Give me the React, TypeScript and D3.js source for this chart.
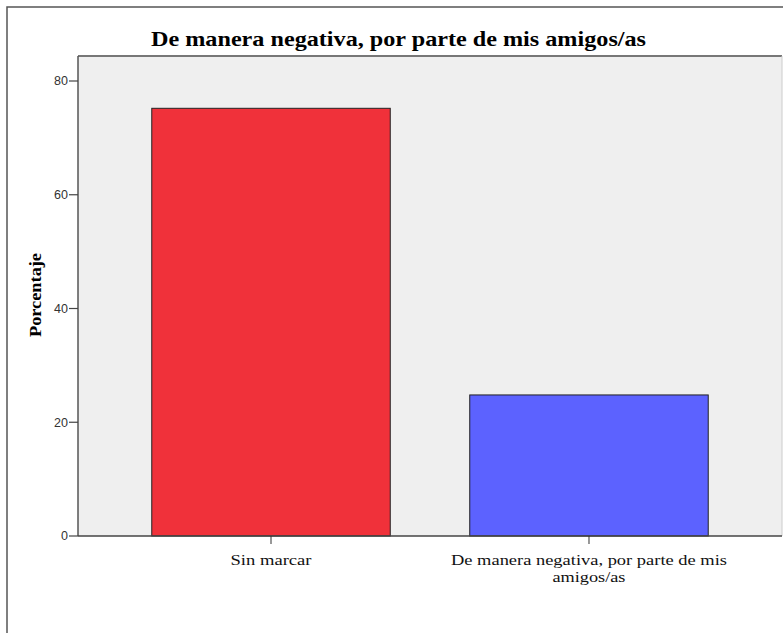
import React from "react";
import * as d3 from "d3";

const categories = ["Sin marcar", "De manera negativa, por parte de mis amigos/as"];
const categoryLines = [["Sin marcar"], ["De manera negativa, por parte de mis", "amigos/as"]];
const categoryLineWidths = [[81], [276, 73]];
const values = [75.2, 24.8];
const colors = ["#F0313A", "#5C62FF"];
const yTicks = [0, 20, 40, 60, 80];
const title = "De manera negativa, por parte de mis amigos/as";
const yTitle = "Porcentaje";

export default function App() {
  const W = 783, H = 633;
  const left = 78, right = 782, top = 56, bottom = 536;
  const y = d3.scaleLinear().domain([0, 80]).range([bottom, 81]);
  const x = d3.scaleBand<string>().domain(categories).range([left, right]).paddingInner(0.25).paddingOuter(0.232);
  const serif = "'Liberation Serif', 'Times New Roman', serif";
  const sans = "'Liberation Sans', Arial, sans-serif";
  return (
    <svg width={W} height={H} style={{ position: "absolute", left: 0, top: 0, background: "#fff" }}>
      <rect x={7} y={7} width={W + 10} height={H + 10} fill="none" stroke="#555" strokeWidth={1.5} />
      <text x={398.5} y={46} textAnchor="middle" fontFamily={serif} fontWeight="bold" fontSize={21}
        textLength={495} lengthAdjust="spacingAndGlyphs">{title}</text>
      <rect x={left} y={top} width={right - left} height={bottom - top} fill="#EFEFEF" />
      <line x1={left} x2={right} y1={top} y2={top} stroke="#777" strokeWidth={2} />
      <line x1={right} x2={right} y1={top} y2={bottom} stroke="#ccc" strokeWidth={1} />
      {categories.map((c, i) => (
        <rect key={c} x={x(c)} y={y(values[i])} width={x.bandwidth()} height={y(0) - y(values[i])}
          fill={colors[i]} stroke="#222" strokeWidth={1} />
      ))}
      <line x1={left} x2={left} y1={top} y2={bottom} stroke="#555" strokeWidth={1.5} />
      <line x1={left} x2={right} y1={bottom} y2={bottom} stroke="#444" strokeWidth={1.5} />
      {yTicks.map(t => (
        <g key={t}>
          <line x1={69} x2={left} y1={y(t)} y2={y(t)} stroke="#444" strokeWidth={1.2} />
          <text x={68} y={y(t)} dy="0.35em" textAnchor="end" fontFamily={sans} fontSize={12.5} fill="#333">{t}</text>
        </g>
      ))}
      {categories.map((c, i) => {
        const cx = (x(c) as number) + x.bandwidth() / 2;
        return (
          <g key={c}>
            <line x1={cx} x2={cx} y1={bottom} y2={bottom + 8} stroke="#333" strokeWidth={1} />
            {categoryLines[i].map((ln, j) => (
              <text key={j} x={cx} y={565 + j * 17} textAnchor="middle" fontFamily={serif} fontSize={15}
                textLength={categoryLineWidths[i][j]} lengthAdjust="spacingAndGlyphs" fill="#111">{ln}</text>
            ))}
          </g>
        );
      })}
      <text transform={`translate(41,295) rotate(-90)`} textAnchor="middle" fontFamily={serif} fontWeight="bold" fontSize={16}
        textLength={84} lengthAdjust="spacingAndGlyphs">{yTitle}</text>
    </svg>
  );
}
